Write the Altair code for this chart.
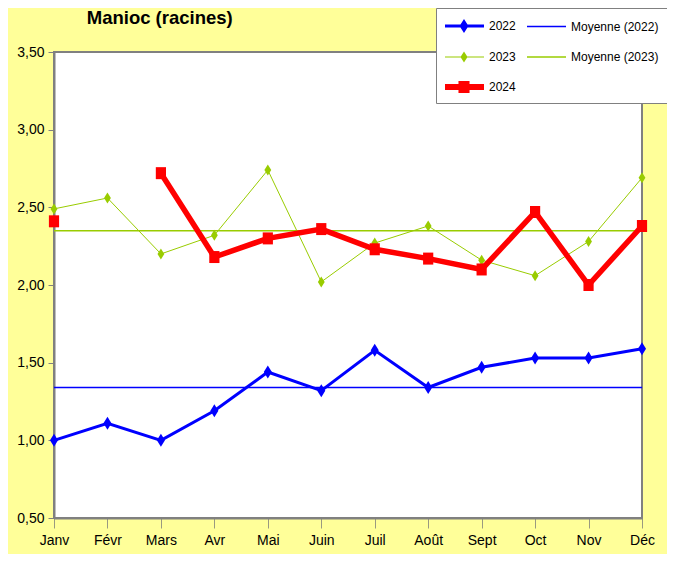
import altair as alt
import pandas as pd

# ---------------- data ----------------
months = ["Janv", "Févr", "Mars", "Avr", "Mai", "Juin", "Juil", "Août", "Sept", "Oct", "Nov", "Déc"]
v2022 = [1.00, 1.11, 1.00, 1.19, 1.44, 1.32, 1.58, 1.34, 1.47, 1.53, 1.53, 1.59]
v2023 = [2.49, 2.56, 2.20, 2.32, 2.74, 2.02, 2.27, 2.38, 2.16, 2.06, 2.28, 2.69]
v2024 = [2.41, None, 2.72, 2.18, 2.30, 2.36, 2.23, 2.17, 2.10, 2.47, 2.00, 2.38]
mean_2022 = [1.34]
mean_2023 = [2.35]
legend_labels = ["2022", "Moyenne (2022)", "2023", "Moyenne (2023)", "2024"]
y_ticks = [0.5, 1.0, 1.5, 2.0, 2.5, 3.0, 3.5]
title_text = "Manioc (racines)"

BLUE = "#0000FF"
GREEN = "#99CC00"
RED = "#FF0000"
FONT = "Liberation Sans, Arial, sans-serif"


def series_df(values):
    rows = []
    seg = 0
    for m, v in zip(months, values):
        if v is None:
            seg += 1
            continue
        rows.append({"month": m, "value": v, "seg": seg})
    return pd.DataFrame(rows)


df22 = series_df(v2022)
df23 = series_df(v2023)
df24 = series_df(v2024)

x_enc = alt.X(
    "month:N",
    sort=months,
    scale=alt.Scale(type="point", domain=months, padding=0),
    axis=alt.Axis(
        title=None, labelAngle=0, labelFont=FONT, labelFontSize=14, labelColor="black",
        tickColor="#999980", tickSize=10, domainColor="#808080", domainWidth=2,
        labelPadding=5, grid=False,
    ),
)
y_enc = alt.Y(
    "value:Q",
    scale=alt.Scale(domain=[0.5, 3.5], nice=False, zero=False),
    axis=alt.Axis(
        title=None, values=y_ticks,
        labelExpr="replace(format(datum.value, '.2f'), '.', ',')",
        labelFont=FONT, labelFontSize=14, labelColor="black",
        tickColor="#808080", tickSize=6, domainColor="#808080", domainWidth=2,
        labelPadding=4, grid=False,
    ),
)


def rect(x0, x1, y0, y1):
    return f"M{x0},{y0}H{x1}V{y1}H{x0}Z"


def diamond(cx, hw, hh):
    return f"M{cx},{-hh}L{cx + hw},0L{cx},{hh}L{cx - hw},0Z"


LX0, LX1, MC = -1.125, 3.75, 1.25
legend_paths = [
    rect(LX0, LX1, -0.19, 0.19) + diamond(MC, 0.56, 0.875),
    rect(LX0, LX1, -0.094, 0.094),
    rect(LX0, LX1, -0.0625, 0.0625) + diamond(MC, 0.44, 0.69),
    rect(LX0, LX1, -0.094, 0.094),
    rect(LX0, LX1, -0.375, 0.375) + rect(MC - 0.69, MC + 0.69, -0.75, 0.75),
]
legend_colors = [BLUE, BLUE, GREEN, GREEN, RED]

leg = alt.Legend(
    title=None, orient="none", legendX=382, legendY=-44, direction="horizontal", columns=2,
    symbolSize=256, symbolStrokeWidth=0, symbolOpacity=1, labelOffset=27,
    columnPadding=11, rowPadding=16, padding=10,
    labelFont=FONT, labelFontSize=12, labelColor="black",
    fillColor="white", strokeColor="#808080",
)

mean22 = alt.Chart(pd.DataFrame({"value": mean_2022})).mark_rule(color=BLUE, strokeWidth=1.5).encode(y=y_enc)
mean23 = alt.Chart(pd.DataFrame({"value": mean_2023})).mark_rule(color=GREEN, strokeWidth=1.5).encode(y=y_enc)

diamond_shape = "M0,-1L0.62,0L0,1L-0.62,0Z"
square_shape = "M-0.85,-1H0.85V1H-0.85Z"

l22 = alt.Chart(df22).mark_line(color=BLUE, strokeWidth=3).encode(x=x_enc, y=y_enc, detail="seg:N")
p22 = alt.Chart(df22).mark_point(filled=True, color=BLUE, opacity=1, shape=diamond_shape, size=169).encode(x=x_enc, y=y_enc)
l23 = alt.Chart(df23).mark_line(color=GREEN, strokeWidth=1).encode(x=x_enc, y=y_enc, detail="seg:N")
p23 = alt.Chart(df23).mark_point(filled=True, color=GREEN, opacity=1, shape=diamond_shape, size=121).encode(x=x_enc, y=y_enc)
l24 = alt.Chart(df24).mark_line(color=RED, strokeWidth=5.5).encode(x=x_enc, y=y_enc, detail="seg:N")
p24 = alt.Chart(df24).mark_point(filled=True, color=RED, opacity=1, shape=square_shape, size=144).encode(x=x_enc, y=y_enc)

legend_layer = (
    alt.Chart(pd.DataFrame({"series": legend_labels}))
    .transform_filter("false")
    .mark_point(filled=True, opacity=1, strokeWidth=0)
    .encode(
        color=alt.Color("series:N", scale=alt.Scale(domain=legend_labels, range=legend_colors), legend=leg),
        shape=alt.Shape("series:N", scale=alt.Scale(domain=legend_labels, range=legend_paths), legend=leg),
    )
)

chart = (
    alt.layer(mean22, mean23, l22, p22, l23, p23, l24, p24, legend_layer)
    .properties(
        width=588,
        height=466,
        title=alt.TitleParams(
            title_text, anchor="start", dx=70, dy=65, font=FONT, fontSize=18.5, fontWeight="bold",
            color="black", baseline="alphabetic", offset=30,
        ),
        background="#FFFF99",
        padding={"left": 46, "top": 44, "right": 25, "bottom": 36},
        autosize=alt.AutoSizeParams(type="none"),
        view=alt.ViewBackground(fill="white", stroke="#808080", strokeWidth=2),
    )
    .configure_view(stroke="#808080", strokeWidth=2, fill="white")
)

chart.save("out.html", embed_options={"renderer": "svg", "actions": False})
